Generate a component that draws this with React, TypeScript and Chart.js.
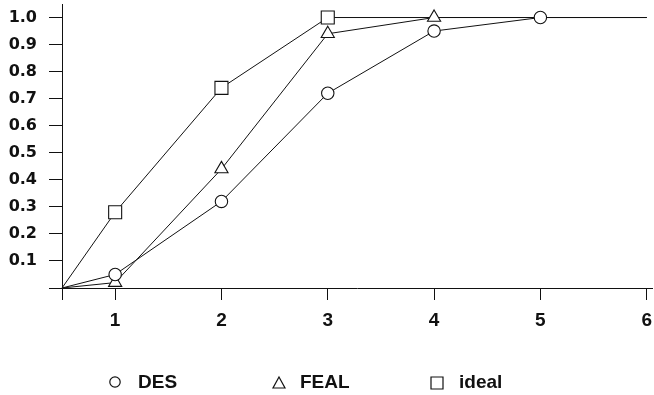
import React, { useEffect, useRef } from "react";
import { Chart, registerables } from "chart.js";

Chart.register(...registerables);

// ---- data ----
const xValues = [0.5, 1, 2, 3, 4, 5, 6];
const desValues = [0, 0.05, 0.32, 0.72, 0.95, 1.0, 1.0];
const fealValues = [0, 0.02, 0.44, 0.94, 1.0, 1.0, 1.0];
const idealValues = [0, 0.28, 0.74, 1.0, 1.0, 1.0, 1.0];
const seriesLabels = ["DES", "FEAL", "ideal"];
const xTickValues = [0.5, 1, 2, 3, 4, 5, 6];
const yTickValues = [0, 0.1, 0.2, 0.3, 0.4, 0.5, 0.6, 0.7, 0.8, 0.9, 1.0];

// ---- layout / style ----
const W = 654;
const H = 395;
const INK = "#111";
const legendMarkerX = [115, 279, 437];
const legendTextX = [138, 300, 459];
const legendY = 383;
const legendBaseline = 388;

function markerRadius(values: number[], r: number) {
  const full = values.indexOf(1.0);
  return (ctx: any) => {
    const i = ctx.dataIndex;
    if (i === 0) return 0;
    if (full >= 0 && i > full) return 0;
    return r;
  };
}

const legendPlugin = {
  id: "customLegend",
  afterDraw(chart: any) {
    const ctx = chart.ctx as CanvasRenderingContext2D;
    ctx.save();
    ctx.strokeStyle = INK;
    ctx.lineWidth = 1.2;
    chart.data.datasets.forEach((ds: any, i: number) => {
      const cx = legendMarkerX[i];
      const cy = legendY;
      ctx.fillStyle = "#fff";
      ctx.beginPath();
      if (ds.pointStyle === "circle") {
        ctx.arc(cx, cy - 1, 5.2, 0, Math.PI * 2);
      } else if (ds.pointStyle === "triangle") {
        ctx.moveTo(cx, cy - 6);
        ctx.lineTo(cx + 6, cy + 5);
        ctx.lineTo(cx - 6, cy + 5);
        ctx.closePath();
      } else {
        ctx.rect(cx - 6, cy - 6, 12, 12);
      }
      ctx.fill();
      ctx.stroke();
      ctx.fillStyle = INK;
      ctx.font = "bold 19px 'Liberation Sans', Arial, sans-serif";
      ctx.textBaseline = "alphabetic";
      ctx.textAlign = "left";
      ctx.fillText(ds.label, legendTextX[i], legendBaseline);
    });
    ctx.restore();
  },
};

export default function App() {
  const ref = useRef<HTMLCanvasElement | null>(null);

  useEffect(() => {
    document.body.style.margin = "0";
    const canvas = ref.current;
    if (!canvas) return;

    const mk = (values: number[]) => xValues.map((x, i) => ({ x, y: values[i] }));

    const common = {
      borderColor: INK,
      borderWidth: 1,
      pointBorderColor: INK,
      pointBackgroundColor: "#fff",
      pointBorderWidth: 1.1,
      tension: 0,
      fill: false,
      clip: false as any,
    };

    const chart = new Chart(canvas, {
      type: "line",
      data: {
        datasets: [
          {
            ...common,
            label: seriesLabels[0],
            data: mk(desValues),
            pointStyle: "circle",
            pointRadius: markerRadius(desValues, 6.2),
          },
          {
            ...common,
            label: seriesLabels[1],
            data: mk(fealValues),
            pointStyle: "triangle",
            pointRadius: markerRadius(fealValues, 7.6),
          },
          {
            ...common,
            label: seriesLabels[2],
            data: mk(idealValues),
            pointStyle: "rect",
            pointRadius: markerRadius(idealValues, 9.2),
          },
        ],
      },
      options: {
        animation: false,
        responsive: false,
        devicePixelRatio: 1,
        events: [],
        layout: { padding: { top: 4, right: 2, left: 0, bottom: 0 } },
        plugins: {
          legend: { display: false },
          tooltip: { enabled: false },
        },
        scales: {
          x: {
            type: "linear",
            min: 0.5,
            max: 6.05,
            afterBuildTicks: (axis: any) => {
              axis.ticks = xTickValues.map((v) => ({ value: v }));
            },
            afterFit: (scale: any) => {
              scale.height = 107;
              scale.paddingLeft = 0;
              scale.paddingRight = 0;
              scale.paddingTop = 0;
              scale.paddingBottom = 0;
            },
            border: { display: true, color: INK, width: 1 },
            grid: {
              display: true,
              drawOnChartArea: false,
              drawTicks: true,
              tickLength: 12,
              color: INK,
              lineWidth: 1,
            },
            ticks: {
              color: INK,
              padding: 9,
              maxRotation: 0,
              autoSkip: false,
              font: { family: "'Liberation Sans', Arial, sans-serif", size: 19, weight: "bold" },
              callback: (v: any) => (Number(v) < 1 ? "" : String(v)),
            },
          },
          y: {
            type: "linear",
            min: 0,
            max: 1.05,
            afterBuildTicks: (axis: any) => {
              axis.ticks = yTickValues.map((v) => ({ value: v }));
            },
            afterFit: (scale: any) => {
              scale.width = 62;
              scale.paddingLeft = 0;
              scale.paddingRight = 0;
              scale.paddingTop = 0;
              scale.paddingBottom = 0;
            },
            border: { display: true, color: INK, width: 1 },
            grid: {
              display: true,
              drawOnChartArea: false,
              drawTicks: true,
              tickLength: 13,
              color: INK,
              lineWidth: 1,
            },
            ticks: {
              color: INK,
              padding: 12,
              autoSkip: false,
              font: { family: "'DejaVu Sans', sans-serif", size: 16, weight: "bold" },
              callback: (v: any) => (Number(v) === 0 ? "" : Number(v).toFixed(1)),
            },
          },
        },
      },
      plugins: [legendPlugin],
    });

    return () => chart.destroy();
  }, []);

  return (
    <div style={{ width: W, height: H, background: "#fff" }}>
      <canvas ref={ref} width={W} height={H} style={{ display: "block" }} />
    </div>
  );
}
